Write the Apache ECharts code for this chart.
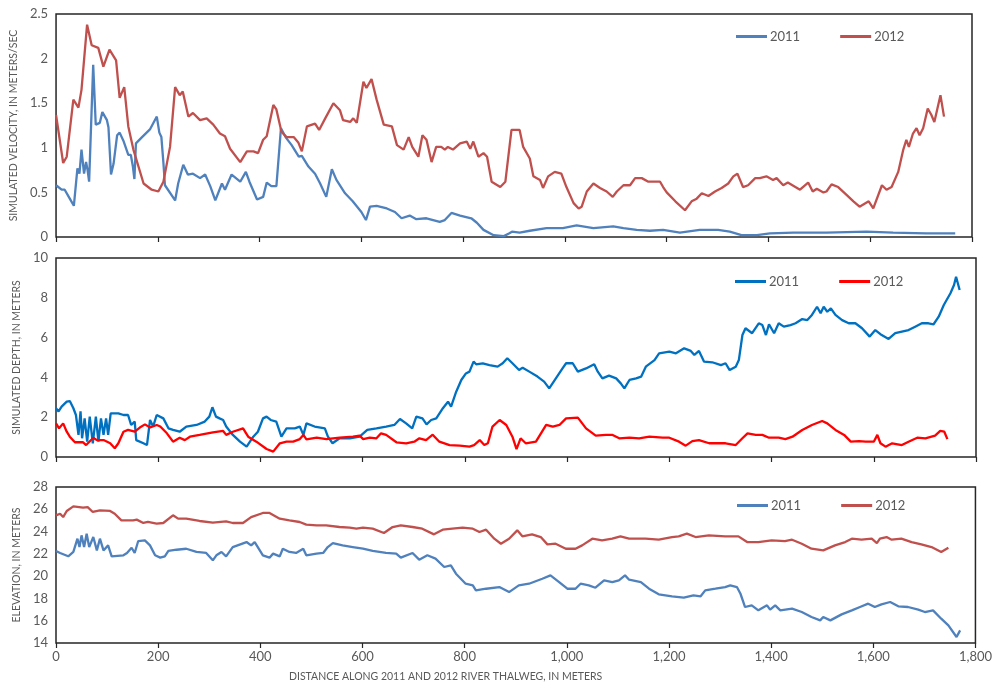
<!DOCTYPE html>
<html>
<head>
<meta charset="utf-8">
<script src="https://cdn.jsdelivr.net/npm/echarts@6/dist/echarts.min.js"></script>
<style>
  html, body { margin: 0; padding: 0; background: #fff; }
  #chart { width: 995px; height: 682px; }
</style>
</head>
<body>
<div id="chart"></div>
<script>
// Distance along thalweg (m) paired with simulated velocity (m/s)
const vel2011 = [[0,0.58],[11,0.53],[17,0.53],[27,0.43],[35,0.35],[42,0.77],[46,0.71],[50,0.98],[55,0.71],[59,0.84],[62,0.75],[65,0.62],[73,1.93],[78,1.26],[86,1.28],[91,1.40],[100,1.31],[103,1.23],[108,0.70],[113,0.82],[120,1.14],[125,1.17],[133,1.07],[142,0.92],[147,0.92],[151,0.79],[154,0.65],[157,1.05],[169,1.12],[185,1.21],[198,1.35],[203,1.17],[207,1.12],[211,0.83],[214,0.58],[234,0.41],[240,0.60],[250,0.81],[259,0.70],[269,0.71],[283,0.66],[293,0.70],[303,0.57],[313,0.41],[326,0.60],[332,0.53],[345,0.70],[362,0.62],[373,0.73],[380,0.62],[395,0.42],[407,0.45],[414,0.61],[423,0.57],[433,0.57],[442,1.22],[451,1.12],[463,1.03],[477,0.90],[483,0.91],[496,0.79],[509,0.71],[519,0.60],[531,0.45],[542,0.76],[551,0.64],[568,0.49],[583,0.40],[600,0.28],[609,0.19],[617,0.34],[630,0.35],[650,0.32],[666,0.28],[679,0.21],[695,0.24],[708,0.20],[728,0.21],[754,0.17],[764,0.19],[777,0.27],[794,0.24],[816,0.21],[827,0.16],[840,0.08],[860,0.02],[880,0.01],[890,0.04],[896,0.06],[911,0.05],[931,0.07],[964,0.10],[996,0.10],[1023,0.13],[1056,0.10],[1095,0.12],[1115,0.10],[1141,0.08],[1167,0.07],[1193,0.08],[1226,0.05],[1265,0.08],[1301,0.08],[1324,0.06],[1347,0.02],[1377,0.02],[1403,0.04],[1449,0.05],[1514,0.05],[1593,0.06],[1645,0.05],[1710,0.04],[1767,0.04]];
const vel2012 = [[0,1.37],[14,0.83],[21,0.90],[34,1.54],[44,1.45],[50,1.65],[61,2.38],[70,2.15],[83,2.12],[93,1.91],[105,2.10],[118,1.98],[125,1.56],[134,1.68],[142,1.24],[152,0.98],[172,0.60],[188,0.53],[201,0.51],[211,0.62],[224,1.01],[234,1.68],[243,1.59],[249,1.63],[260,1.35],[269,1.39],[283,1.31],[296,1.33],[309,1.26],[322,1.16],[332,1.13],[342,0.99],[362,0.84],[375,0.96],[388,0.96],[397,0.94],[407,1.09],[414,1.13],[427,1.48],[433,1.43],[443,1.18],[453,1.12],[467,1.12],[476,1.06],[483,0.96],[493,1.24],[509,1.27],[517,1.20],[529,1.33],[545,1.50],[558,1.42],[564,1.31],[578,1.29],[584,1.33],[591,1.28],[604,1.74],[610,1.67],[620,1.77],[630,1.54],[644,1.26],[660,1.24],[670,1.03],[683,0.98],[693,1.12],[700,1.01],[712,0.90],[720,1.14],[728,1.09],[738,0.84],[747,1.01],[757,1.01],[764,0.98],[770,1.01],[780,0.98],[794,1.05],[807,1.07],[814,0.99],[820,1.07],[830,0.90],[840,0.94],[847,0.90],[856,0.62],[873,0.56],[883,0.62],[895,1.20],[911,1.20],[918,1.01],[931,0.88],[938,0.68],[951,0.64],[957,0.55],[967,0.68],[980,0.73],[993,0.71],[1003,0.56],[1017,0.38],[1027,0.32],[1033,0.34],[1043,0.51],[1056,0.60],[1069,0.55],[1082,0.51],[1094,0.45],[1102,0.51],[1115,0.58],[1128,0.58],[1138,0.66],[1151,0.66],[1164,0.62],[1174,0.62],[1187,0.62],[1193,0.56],[1200,0.50],[1217,0.40],[1236,0.30],[1249,0.40],[1259,0.43],[1269,0.49],[1282,0.46],[1295,0.51],[1308,0.55],[1321,0.60],[1331,0.68],[1339,0.71],[1350,0.56],[1360,0.58],[1374,0.66],[1383,0.66],[1396,0.68],[1409,0.64],[1416,0.66],[1429,0.58],[1438,0.61],[1462,0.53],[1478,0.61],[1487,0.51],[1495,0.54],[1508,0.50],[1514,0.51],[1524,0.59],[1537,0.56],[1554,0.47],[1567,0.40],[1579,0.34],[1597,0.40],[1606,0.32],[1623,0.58],[1632,0.53],[1642,0.56],[1655,0.73],[1665,0.98],[1671,1.09],[1676,1.01],[1684,1.16],[1691,1.22],[1697,1.14],[1704,1.22],[1713,1.44],[1720,1.37],[1726,1.29],[1738,1.59],[1745,1.35]];

// Simulated depth (m)
const depth2011 = [[0,2.45],[5,2.29],[11,2.53],[21,2.78],[27,2.81],[34,2.45],[39,2.11],[44,1.11],[48,2.29],[51,0.94],[56,1.94],[61,0.77],[66,2.03],[72,0.69],[78,2.03],[83,0.77],[88,1.94],[93,1.11],[98,1.94],[102,1.11],[107,2.19],[122,2.19],[132,2.11],[141,2.11],[147,1.61],[154,1.78],[157,0.85],[171,0.69],[178,0.60],[184,1.86],[190,1.53],[197,2.11],[210,1.94],[220,1.44],[229,1.36],[242,1.27],[255,1.53],[275,1.61],[291,1.78],[300,2.03],[306,2.50],[313,2.03],[320,1.94],[327,1.86],[333,1.53],[346,1.11],[360,0.77],[373,0.52],[386,1.02],[395,1.27],[405,1.94],[412,2.03],[420,1.86],[431,1.78],[441,1.02],[451,1.44],[467,1.44],[477,1.53],[484,1.11],[490,1.69],[506,1.53],[526,1.44],[532,1.02],[541,0.69],[555,0.94],[575,0.94],[594,1.02],[609,1.36],[627,1.44],[646,1.53],[662,1.61],[673,1.91],[685,1.69],[697,1.44],[705,2.03],[717,1.94],[725,1.64],[734,1.86],[744,1.94],[757,2.45],[767,2.78],[773,2.53],[783,3.28],[793,3.87],[802,4.20],[809,4.29],[817,4.79],[822,4.66],[835,4.71],[848,4.62],[864,4.54],[874,4.71],[883,4.96],[893,4.71],[906,4.37],[913,4.49],[926,4.29],[942,4.04],[955,3.79],[965,3.45],[978,3.95],[991,4.45],[998,4.71],[1011,4.71],[1021,4.29],[1037,4.45],[1053,4.66],[1060,4.29],[1069,3.95],[1082,4.09],[1096,3.95],[1105,3.70],[1112,3.45],[1122,3.87],[1135,3.95],[1145,4.04],[1154,4.54],[1171,4.87],[1180,5.21],[1200,5.29],[1213,5.21],[1229,5.46],[1242,5.33],[1249,5.13],[1258,5.33],[1268,4.79],[1284,4.76],[1301,4.62],[1310,4.71],[1318,4.37],[1330,4.54],[1336,4.87],[1343,6.13],[1349,6.47],[1362,6.22],[1375,6.72],[1382,6.63],[1389,6.13],[1395,6.67],[1405,6.22],[1414,6.72],[1424,6.55],[1437,6.63],[1447,6.72],[1460,6.93],[1470,6.88],[1479,7.14],[1489,7.55],[1496,7.22],[1502,7.55],[1509,7.30],[1516,7.47],[1525,7.14],[1538,6.88],[1551,6.72],[1564,6.72],[1577,6.47],[1592,6.05],[1603,6.38],[1613,6.17],[1629,5.93],[1642,6.22],[1655,6.30],[1668,6.38],[1681,6.55],[1694,6.72],[1707,6.72],[1717,6.67],[1727,7.05],[1737,7.64],[1750,8.23],[1757,8.64],[1761,9.06],[1768,8.39]];
const depth2012 = [[0,1.69],[6,1.44],[14,1.69],[21,1.27],[27,1.02],[37,0.74],[53,0.74],[59,0.60],[73,0.97],[80,0.85],[93,0.85],[106,0.69],[115,0.44],[122,0.69],[132,1.27],[141,1.36],[154,1.27],[164,1.48],[174,1.64],[184,1.48],[197,1.61],[204,1.53],[217,1.19],[229,0.77],[242,0.97],[252,0.85],[262,1.02],[281,1.11],[307,1.24],[327,1.31],[333,1.11],[346,1.27],[366,1.44],[376,1.02],[392,0.77],[412,0.40],[425,0.27],[438,0.69],[451,0.77],[464,0.77],[477,0.90],[484,1.11],[490,0.89],[510,0.97],[529,0.90],[555,0.97],[581,1.02],[594,1.07],[601,0.90],[614,0.97],[627,0.94],[636,1.19],[646,1.11],[666,0.74],[685,0.69],[701,0.77],[711,0.94],[724,0.85],[737,1.12],[750,0.77],[770,0.60],[790,0.57],[809,0.52],[818,0.60],[829,0.85],[838,0.60],[845,0.69],[854,1.53],[868,1.86],[881,1.61],[893,1.02],[901,0.40],[909,0.94],[919,0.69],[939,0.77],[959,1.61],[972,1.53],[985,1.61],[998,1.94],[1021,1.98],[1037,1.44],[1056,1.07],[1076,1.11],[1089,1.11],[1102,0.94],[1122,0.97],[1141,0.94],[1161,1.02],[1187,0.97],[1200,0.97],[1219,0.77],[1232,0.57],[1245,0.80],[1258,0.85],[1278,0.69],[1297,0.69],[1310,0.69],[1330,0.60],[1343,0.94],[1353,1.19],[1369,1.11],[1382,1.11],[1395,0.97],[1414,0.97],[1427,0.90],[1441,1.02],[1460,1.36],[1479,1.61],[1499,1.81],[1509,1.69],[1525,1.36],[1542,1.11],[1555,0.77],[1571,0.80],[1584,0.77],[1600,0.77],[1607,1.11],[1613,0.69],[1623,0.52],[1636,0.69],[1655,0.60],[1668,0.77],[1685,0.97],[1701,0.94],[1720,1.07],[1730,1.31],[1738,1.27],[1744,0.90]];

// Bed elevation (m)
const elev2011 = [[0,22.26],[8,22.08],[24,21.78],[34,22.17],[42,23.36],[46,22.61],[50,23.66],[55,22.61],[60,23.81],[65,22.61],[73,23.51],[80,22.31],[86,23.36],[93,22.31],[102,22.76],[109,21.78],[132,21.87],[139,22.08],[148,22.55],[154,22.08],[161,23.15],[174,23.21],[184,22.76],[194,21.87],[204,21.66],[213,21.78],[220,22.26],[236,22.37],[255,22.46],[275,22.17],[294,22.08],[307,21.42],[314,21.87],[324,22.17],[333,21.78],[346,22.61],[373,23.06],[382,22.76],[389,23.06],[405,21.87],[418,21.66],[425,22.02],[438,21.78],[444,22.46],[457,22.17],[470,22.08],[484,22.46],[490,21.87],[510,22.02],[523,22.08],[532,22.61],[542,22.97],[561,22.76],[581,22.61],[601,22.46],[620,22.26],[646,22.08],[666,22.02],[675,21.66],[698,22.08],[711,21.48],[727,21.87],[743,21.57],[760,20.82],[773,20.97],[783,20.22],[802,19.32],[816,19.17],[822,18.72],[842,18.87],[868,19.02],[887,18.57],[906,19.17],[926,19.32],[952,19.77],[968,20.07],[985,19.47],[1001,18.87],[1017,18.87],[1027,19.32],[1043,19.17],[1056,18.96],[1073,19.62],[1089,19.47],[1102,19.62],[1114,20.07],[1122,19.68],[1145,19.47],[1161,18.87],[1180,18.37],[1206,18.19],[1229,18.07],[1248,18.27],[1262,18.19],[1271,18.72],[1291,18.87],[1310,19.02],[1320,19.17],[1333,19.02],[1340,18.42],[1349,17.23],[1362,17.38],[1375,16.93],[1392,17.38],[1398,16.99],[1408,17.38],[1418,16.93],[1441,17.08],[1460,16.78],[1479,16.33],[1496,16.03],[1502,16.33],[1516,16.03],[1538,16.57],[1558,16.93],[1574,17.23],[1590,17.53],[1603,17.23],[1616,17.47],[1633,17.68],[1649,17.29],[1668,17.23],[1688,16.99],[1701,16.78],[1717,16.93],[1733,16.18],[1747,15.58],[1763,14.54],[1770,15.13]];
const elev2012 = [[0,25.46],[8,25.6],[14,25.3],[21,25.85],[34,26.26],[53,26.14],[62,26.2],[72,25.76],[86,25.9],[106,25.85],[115,25.6],[128,25.0],[151,25.0],[158,25.07],[171,24.77],[180,24.86],[197,24.71],[210,24.77],[229,25.46],[239,25.16],[255,25.16],[281,24.95],[307,24.8],[333,24.92],[346,24.77],[366,24.77],[382,25.3],[405,25.67],[418,25.67],[438,25.16],[457,25.0],[477,24.86],[490,24.62],[510,24.56],[529,24.56],[555,24.41],[575,24.35],[588,24.26],[601,24.35],[620,24.26],[642,23.87],[659,24.41],[675,24.56],[698,24.41],[717,24.26],[740,23.75],[757,24.17],[776,24.26],[796,24.35],[816,24.26],[829,23.96],[842,24.17],[858,23.36],[871,22.91],[887,23.36],[903,24.11],[913,23.57],[932,23.75],[949,23.51],[962,22.85],[978,22.91],[998,22.46],[1017,22.46],[1030,22.76],[1050,23.36],[1069,23.21],[1089,23.36],[1105,23.57],[1122,23.36],[1154,23.36],[1180,23.27],[1206,23.51],[1219,23.57],[1235,23.81],[1252,23.51],[1278,23.66],[1310,23.57],[1336,23.57],[1353,23.06],[1375,23.06],[1401,23.21],[1427,23.15],[1441,23.27],[1460,22.91],[1479,22.46],[1502,22.31],[1525,22.76],[1545,23.06],[1558,23.36],[1577,23.27],[1597,23.36],[1607,22.97],[1613,23.36],[1626,23.51],[1636,23.27],[1655,23.36],[1675,23.06],[1694,22.85],[1714,22.61],[1733,22.16],[1747,22.55]];

const yearNames = ['2011', '2012'];
const panelTitles = ['SIMULATED VELOCITY, IN METERS/SEC', 'SIMULATED DEPTH, IN METERS', 'ELEVATION, IN METERS'];
const xTitle = 'DISTANCE ALONG 2011 AND 2012 RIVER THALWEG, IN METERS';

const FONT = 'Lato, "Open Sans", sans-serif';
const GRAY = '#595959';
const FRAME = '#262626';
const panelColors = [
  ['#4F81BD', '#C0504D'],
  ['#0070C0', '#FF0000'],
  ['#4F81BD', '#C0504D']
];
const yRanges = [
  { min: 0, max: 2.5, interval: 0.5 },
  { min: 0, max: 10, interval: 2 },
  { min: 14, max: 28, interval: 2 }
];
const panelSeries = [
  [vel2011, vel2012],
  [depth2011, depth2012],
  [elev2011, elev2012]
];

const grids = [
  { left: 56, right: 23, top: 14, height: 223 },
  { left: 56, right: 19, top: 258, height: 199 },
  { left: 56, right: 18, top: 487, height: 156 }
].map(g => Object.assign({ show: true, borderColor: FRAME, borderWidth: 1.5, backgroundColor: '#fff' }, g));

// vertical centre of each legend row
const legendCenters = [33, 278, 502];
const legendLefts = [731, 730, 732];

const xAxes = grids.map((g, i) => ({
  type: 'value', gridIndex: i, min: 0, max: 1800, interval: 200,
  axisLine: { show: false },
  splitLine: { show: false },
  axisTick: { show: true, length: 5, lineStyle: { color: FRAME, width: 1.2 } },
  axisLabel: {
    show: i === 2, margin: 7, color: GRAY, fontSize: 13, fontFamily: FONT,
    formatter: v => v.toLocaleString('en-US')
  }
}));

const yAxes = grids.map((g, i) => Object.assign({
  type: 'value', gridIndex: i,
  name: panelTitles[i], nameLocation: 'middle', nameGap: 31, nameRotate: 90,
  nameTextStyle: { color: GRAY, fontSize: 10.5, fontFamily: FONT },
  axisLine: { show: false },
  axisTick: { show: false },
  splitLine: { show: false },
  axisLabel: { color: GRAY, fontSize: 13, fontFamily: FONT, margin: 8 }
}, yRanges[i]));

const series = [];
panelSeries.forEach((pair, i) => {
  pair.forEach((data, k) => {
    series.push({
      type: 'line', name: yearNames[k], xAxisIndex: i, yAxisIndex: i,
      data: data, symbol: 'none', smooth: false,
      lineStyle: { color: panelColors[i][k], width: 2.3 },
      itemStyle: { color: panelColors[i][k] }
    });
  });
});

const legends = grids.map((g, i) => ({
  left: legendLefts[i], top: legendCenters[i] - 8,
  orient: 'horizontal', selectedMode: false,
  icon: 'rect', itemWidth: 31, itemHeight: 3, itemGap: 40,
  textStyle: { color: GRAY, fontSize: 13, fontFamily: FONT, padding: [0, 0, 0, -2] },
  data: yearNames.map((n, k) => ({
    name: n,
    itemStyle: { color: panelColors[i][k] }
  }))
}));

const chart = echarts.init(document.getElementById('chart'), null, { renderer: 'canvas' });
chart.setOption({
  animation: false,
  backgroundColor: '#fff',
  grid: grids,
  xAxis: xAxes,
  yAxis: yAxes,
  legend: legends,
  series: series,
  graphic: [{
    type: 'text', left: 289, top: 671,
    style: { text: xTitle, fill: GRAY, fontSize: 10.5, fontFamily: FONT }
  }]
});
</script>
</body>
</html>
